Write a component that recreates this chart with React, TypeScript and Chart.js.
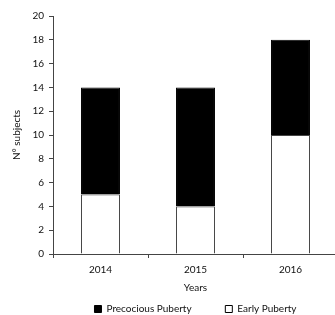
import React, { useEffect, useRef } from "react";
import { Chart, registerables } from "chart.js";
Chart.register(...registerables);

const categories = ["2014", "2015", "2016"];
const earlyPuberty = [5, 4, 10];
const precociousPuberty = [9, 10, 8];
const yTicks = [0, 2, 4, 6, 8, 10, 12, 14, 16, 18, 20];

export default function App() {
  const ref = useRef<HTMLCanvasElement | null>(null);
  useEffect(() => {
    if (!ref.current) return;
    const font = { family: "Lato, 'Liberation Sans', Arial, sans-serif", size: 10 };
    const chart = new Chart(ref.current, {
      type: "bar",
      data: {
        labels: categories,
        datasets: [
          {
            label: "Early Puberty",
            data: earlyPuberty,
            backgroundColor: "#ffffff",
            borderColor: "#444444",
            borderWidth: 1,
          },
          {
            label: "Precocious Puberty",
            data: precociousPuberty,
            backgroundColor: "#000000",
            borderColor: "#000000",
            borderWidth: 1,
          },
        ],
      },
      options: {
        responsive: false,
        animation: false,
        layout: { padding: { top: 16, right: 0, left: 0, bottom: -9 } },
        datasets: { bar: { categoryPercentage: 1, barPercentage: 0.41 } },
        plugins: {
          tooltip: { enabled: false },
          legend: {
            position: "bottom",
            fullSize: false,
            reverse: true,
            labels: {
              font,
              color: "#111",
              boxWidth: 7,
              boxHeight: 7,
              padding: 10,
              generateLabels: (c) =>
                Chart.defaults.plugins.legend.labels.generateLabels(c).map((l) => ({
                  ...l,
                  text: l.text === "Precocious Puberty" ? l.text + "\u2003\u2003\u2003\u2009" : l.text,
                  lineWidth: 1,
                  strokeStyle: "#000",
                })),
            },
          },
        },
        scales: {
          x: {
            stacked: true,
            offset: true,
            afterFit: (s) => {
              s.height = 40;
            },
            grid: { drawOnChartArea: false, offset: true, tickLength: 4, color: "#444" },
            border: { color: "#444", width: 1 },
            ticks: { font, color: "#111", padding: 6 },
            title: { display: true, text: "Years", font, color: "#111", padding: { top: 6, bottom: 0 } },
          },
          y: {
            stacked: true,
            min: 0,
            max: 20,
            afterBuildTicks: (s) => {
              s.ticks = yTicks.map((v) => ({ value: v }));
            },
            afterFit: (s) => {
              s.width = 53;
            },
            grid: { drawOnChartArea: false, tickLength: 4, color: "#444" },
            border: { color: "#444", width: 1 },
            ticks: { font, color: "#111", padding: 5 },
            title: { display: true, text: "N° subjects", font, color: "#111", padding: { top: 11, bottom: 0 } },
          },
        },
      },
    });
    return () => chart.destroy();
  }, []);
  return (
    <div style={{ position: "fixed", left: 0, top: 0, width: 335, height: 315, overflow: "hidden", background: "#fff" }}>
      <canvas ref={ref} width={338} height={315} style={{ display: "block" }} />
    </div>
  );
}
